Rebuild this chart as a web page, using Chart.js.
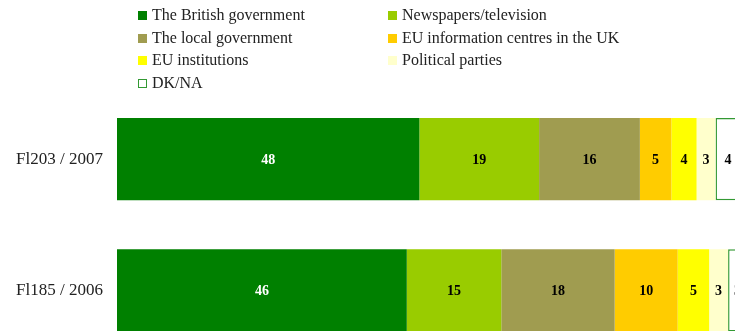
<!DOCTYPE html>
<html>
<head>
<meta charset="utf-8">
<script src="https://cdn.jsdelivr.net/npm/chart.js@4.4.0/dist/chart.umd.min.js"></script>
<style>
  html, body { margin: 0; padding: 0; background: #fff; overflow: hidden; }
  #wrap { position: relative; width: 735px; height: 331px; overflow: hidden; }
  #grafica { position: absolute; left: 0; top: 0; }
  #leyenda { position: absolute; left: 138px; top: 5px; width: 560px;
             font-family: "Liberation Serif", serif; font-size: 16px; color: #222; }
  .item { position: absolute; white-space: nowrap; line-height: 20px; }
  .item span.cuadro { display: inline-block; width: 9px; height: 9px; margin-right: 5px; vertical-align: 0px; box-sizing: border-box; }
</style>
</head>
<body>
<div id="wrap">
  <canvas id="grafica" width="735" height="356"></canvas>
  <div id="leyenda"></div>
</div>
<script>
// Encuestas (de arriba abajo)
const encuestas = ['Fl203 / 2007', 'Fl185 / 2006'];

// Fuentes de información y sus valores (%)
const fuentes = [
  'The British government', 'Newspapers/television', 'The local government',
  'EU information centres in the UK', 'EU institutions', 'Political parties', 'DK/NA'
];
const gobiernoBritanico = [48, 46];
const prensaTele = [19, 15];
const gobiernoLocal = [16, 18];
const centrosUE = [5, 10];
const institucionesUE = [4, 5];
const partidos = [3, 3];
const nsnc = [4, 3];

const colores = ['#008000', '#99cc00', '#a09c50', '#ffcc00', '#ffff00', '#ffffcc', '#ffffff'];
const colorTexto = ['#ffffff', '#000', '#000', '#000', '#000', '#000', '#000'];
const valores = [gobiernoBritanico, prensaTele, gobiernoLocal, centrosUE, institucionesUE, partidos, nsnc];

// Leyenda en dos columnas
const leyenda = document.getElementById('leyenda');
fuentes.forEach((f, i) => {
  const col = i % 2, fila = Math.floor(i / 2);
  const d = document.createElement('div');
  d.className = 'item';
  d.style.left = (col * 250) + 'px';
  d.style.top = (fila * 22.5) + 'px';
  const c = document.createElement('span');
  c.className = 'cuadro';
  if (i === 6) { c.style.border = '1.5px solid #339933'; c.style.background = '#fff'; }
  else c.style.background = colores[i];
  d.appendChild(c);
  d.appendChild(document.createTextNode(f));
  leyenda.appendChild(d);
});

// Etiquetas con el valor en el centro de cada tramo
const etiquetas = {
  id: 'etiquetas',
  afterDatasetsDraw(chart) {
    const ctx = chart.ctx;
    ctx.save();
    ctx.font = 'bold 14px "Liberation Serif", serif';
    ctx.textAlign = 'center';
    ctx.textBaseline = 'middle';
    chart.data.datasets.forEach((ds, i) => {
      chart.getDatasetMeta(i).data.forEach((bar, j) => {
        ctx.fillStyle = colorTexto[i];
        ctx.fillText(ds.data[j], (bar.x + bar.base) / 2, bar.y + 1);
      });
    });
    ctx.restore();
  }
};

new Chart(document.getElementById('grafica'), {
  type: 'bar',
  data: {
    labels: encuestas,
    datasets: fuentes.map((f, i) => ({
      label: f,
      data: valores[i],
      backgroundColor: colores[i],
      borderColor: i === 6 ? '#339933' : colores[i],
      borderWidth: i === 6 ? 1.5 : 0,
      borderSkipped: false,
      barPercentage: 0.626,
      categoryPercentage: 1
    }))
  },
  options: {
    indexAxis: 'y',
    responsive: false,
    animation: false,
    layout: { padding: { top: 93.5, bottom: 0, left: 0, right: 0 } },
    plugins: { legend: { display: false }, tooltip: { enabled: false } },
    scales: {
      x: { stacked: true, display: false, min: 0, max: 98.1 },
      y: {
        stacked: true,
        grid: { display: false, drawTicks: false },
        border: { display: false },
        ticks: { padding: 14, color: '#222', font: { family: '"Liberation Serif", serif', size: 17 } },
        afterFit(scale) {
          scale.width = 117;
          scale.paddingTop = 0;
          scale.paddingBottom = 0;
        }
      }
    }
  },
  plugins: [etiquetas]
});
</script>
</body>
</html>
